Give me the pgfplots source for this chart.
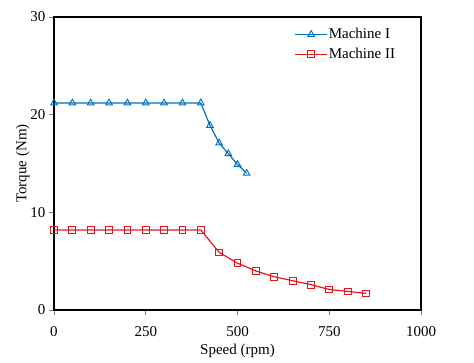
\documentclass[border=0pt]{standalone}
\usepackage{pgfplots}
\pgfplotsset{compat=1.18}
\usepackage{fontspec}
\setmainfont{Liberation Serif}
\definecolor{mblue}{RGB}{0,112,192}
\definecolor{mred}{RGB}{230,20,30}
\begin{document}
\begin{tikzpicture}
\useasboundingbox (-54pt,-53pt) rectangle (420pt,310pt);
\begin{axis}[
  at={(0,0)}, anchor=south west,
  scale only axis, width=367pt, height=293pt,
  xmin=0, xmax=1000, ymin=0, ymax=30,
  xtick={0,250,500,750,1000}, ytick={0,10,20,30},
  axis line style={black, line width=1.2pt},
  tick style={gray, line width=0.6pt},
  tick align=outside, major tick length=5pt,
  xtick pos=bottom, ytick pos=left,
  font=\fontsize{15}{17}\selectfont,
  tick label style={font=\fontsize{15}{17}\selectfont},
  xticklabel style={yshift=-8pt},
  /pgf/number format/assume math mode=true,
  /pgf/number format/1000 sep={},
  xlabel={Speed (rpm)}, ylabel={Torque (Nm)},
  xlabel style={yshift=-1pt},
  ylabel style={yshift=-6pt},
  legend style={at={(0.655,0.965)}, anchor=north west, draw=none, fill=none,
    font=\fontsize{15}{17}\selectfont, inner sep=0pt, row sep=6pt,
    nodes={inner xsep=1pt, inner ysep=1pt}},
  legend cell align=left,
  legend image code/.code={\draw[mark repeat=2,mark phase=2] plot coordinates {(0pt,0pt)(16pt,0pt)(32pt,0pt)};},
]
\addplot[mblue, line width=1.2pt, mark=triangle, mark size=3.8pt, mark options={line width=0.9pt, fill=white}]
coordinates {(0,21.2)(50,21.2)(100,21.2)(150,21.2)(200,21.2)(250,21.2)(300,21.2)(350,21.2)(400,21.2)
(425,18.9)(450,17.1)(475,16.0)(500,14.9)(525,14.0)};
\addlegendentry{Machine I}
\addplot[mred, line width=1.2pt, mark=square, mark size=3.4pt, mark options={line width=0.9pt, fill=white}]
coordinates {(0,8.2)(50,8.2)(100,8.2)(150,8.2)(200,8.2)(250,8.2)(300,8.2)(350,8.2)(400,8.2)
(450,5.9)(500,4.8)(550,4.0)(600,3.4)(650,3.0)(700,2.6)(750,2.1)(800,1.9)(850,1.7)};
\addlegendentry{Machine II}
\end{axis}
\end{tikzpicture}
\end{document}
